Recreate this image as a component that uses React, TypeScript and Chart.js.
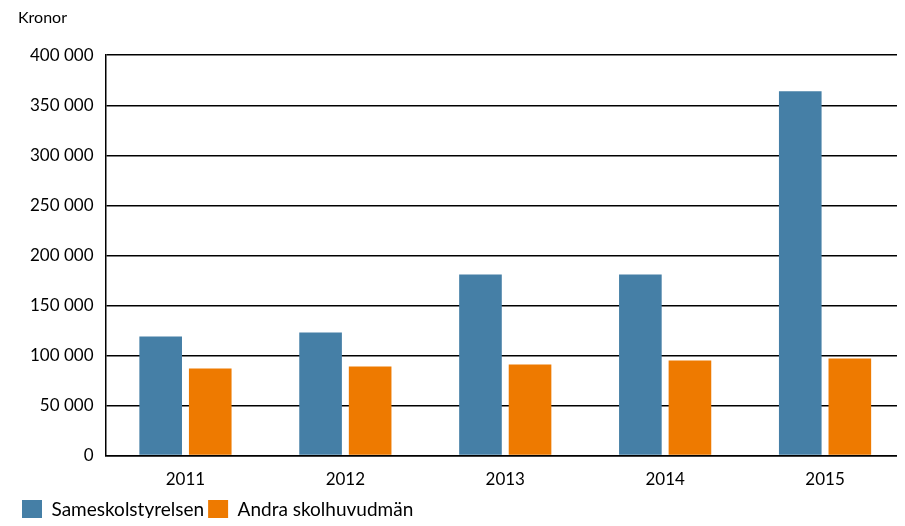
import { useEffect, useRef } from "react";
import { Chart, registerables } from "chart.js";

Chart.register(...registerables);

const years = ["2011", "2012", "2013", "2014", "2015"];
const sameskolstyrelsen = [119000, 123000, 181000, 181000, 364000];
const andraHuvudman = [87000, 89000, 91000, 95000, 97000];

const fmt = (v: number) => String(v).replace(/\B(?=(\d{3})+(?!\d))/g, " ");

export default function App() {
    const canvasRef = useRef<HTMLCanvasElement>(null);

    useEffect(() => {
        if (!canvasRef.current) return;
        const font = { family: "Lato", size: 17 };
        const chart = new Chart(canvasRef.current, {
            type: "bar",
            data: {
                labels: years,
                datasets: [
                    { label: "Sameskolstyrelsen", data: sameskolstyrelsen, backgroundColor: "#457fa6", categoryPercentage: 0.62, barPercentage: 0.86 },
                    { label: "Andra skolhuvudmän", data: andraHuvudman, backgroundColor: "#ee7a00", categoryPercentage: 0.62, barPercentage: 0.86 },
                ],
            },
            options: {
                animation: false,
                responsive: false,
                layout: { padding: { left: 18, right: -10, top: 0, bottom: -4 } },
                plugins: {
                    tooltip: { enabled: false },
                    title: {
                        display: true,
                        text: "Kronor",
                        align: "start",
                        color: "#000",
                        font: { family: "Lato", size: 16, weight: "normal" },
                        padding: { top: 8, bottom: 28 },
                    },
                    legend: {
                        position: "bottom",
                        align: "start",
                        labels: { color: "#000", font: { family: "Lato", size: 19 }, boxWidth: 20, boxHeight: 20, padding: 4 },
                    },
                },
                scales: {
                    x: {
                        grid: { display: false },
                        border: { color: "#000", width: 1.5 },
                        ticks: { color: "#000", font, padding: 6 },
                    },
                    y: {
                        min: 0,
                        max: 400000,
                        ticks: { stepSize: 50000, color: "#000", font, callback: (v) => fmt(Number(v)), padding: 12 },
                        grid: { color: "#000", lineWidth: 1.5, drawTicks: false },
                        border: { color: "#000", width: 1.5 },
                    },
                },
            },
        });
        return () => { chart.destroy(); };
    }, []);

    return (
        <div style={{ margin: -8 }}>
            <canvas ref={canvasRef} width={905} height={526} />
        </div>
    );
}
